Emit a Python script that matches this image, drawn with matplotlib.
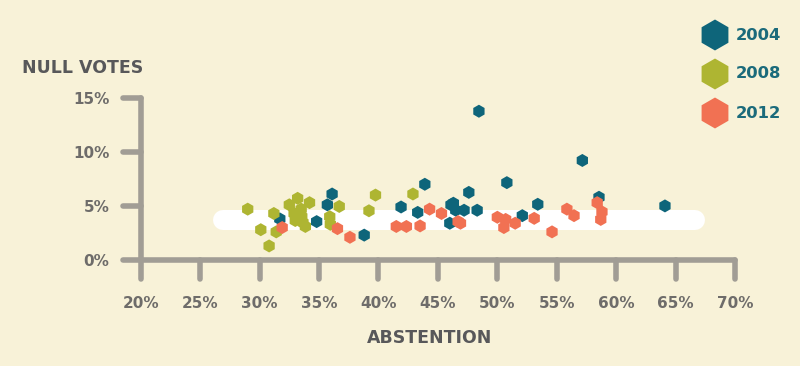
import matplotlib
matplotlib.use('Agg')
import matplotlib.pyplot as plt

#
# DATA
#
years = ['2004', '2008', '2012']

abst_2004 = [31.7, 34.8, 35.7, 36.1, 38.8, 41.9, 43.3, 43.9, 46.0, 46.1, 46.3,
             46.5, 47.2, 47.6, 48.3, 48.45, 50.8, 52.1, 53.4, 57.15, 58.55, 64.1]
null_2004 = [3.8, 3.55, 5.1, 6.1, 2.3, 4.9, 4.4, 7.0, 3.4, 5.1, 5.25,
             4.6, 4.6, 6.25, 4.6, 13.75, 7.15, 4.1, 5.15, 9.2, 5.8, 5.0]

abst_2008 = [29.0, 30.1, 30.8, 31.2, 31.4, 32.5, 32.9, 33.0, 33.2, 33.5,
             33.55, 33.65, 33.85, 34.2, 35.9, 35.95, 36.7, 39.2, 39.75, 42.9]
null_2008 = [4.7, 2.8, 1.3, 4.3, 2.6, 5.1, 4.3, 3.65, 5.7, 4.7,
             4.0, 3.45, 3.1, 5.3, 4.0, 3.3, 4.95, 4.55, 6.0, 6.1]

abst_2012 = [31.9, 36.55, 37.6, 41.5, 42.35, 43.5, 44.3, 45.3, 46.7, 46.9, 50.0,
             50.7, 50.55, 51.5, 53.1, 54.6, 55.85, 56.45, 58.4, 58.8, 58.7]
null_2012 = [3.0, 2.9, 2.1, 3.1, 3.1, 3.15, 4.7, 4.3, 3.55, 3.4, 3.95,
             3.75, 3.0, 3.4, 3.85, 2.6, 4.7, 4.1, 5.3, 4.45, 3.75]

# white band (average)
band_x = [26.92, 66.63]
band_y = [3.7, 3.7]

x_ticks = [20, 25, 30, 35, 40, 45, 50, 55, 60, 65, 70]
y_ticks = [0, 5, 10, 15]

#
# STYLE
#
BG = '#f8f2d8'
AXIS = '#a19d95'
LABEL = '#6e6c6a'
TITLE = '#58585a'
TEAL = '#0e657a'
OLIVE = '#aeb532'
CORAL = '#f17153'
colors = [TEAL, OLIVE, CORAL]

plt.rcParams['font.family'] = 'DejaVu Sans'
plt.rcParams['font.weight'] = 'bold'

fig = plt.figure(figsize=(8, 3.66), dpi=100, facecolor=BG)
ax = fig.add_axes([0.1759, 0.2896, 0.7504, 0.4582])
ax.set_facecolor(BG)
ax.set_xlim(20, 70.5)
ax.set_ylim(0, 15.5)
for s in ax.spines.values():
    s.set_visible(False)

# axis lines with rounded ends
lw = 4.0
ax.plot([20, 20], [-1.8, 15], color=AXIS, lw=lw, solid_capstyle='round', clip_on=False, zorder=1)
ax.plot([18.55, 70], [0, 0], color=AXIS, lw=lw, solid_capstyle='round', clip_on=False, zorder=1)
for v in y_ticks[1:]:
    ax.plot([18.55, 20], [v, v], color=AXIS, lw=lw, solid_capstyle='round', clip_on=False, zorder=1)
for u in x_ticks[1:]:
    ax.plot([u, u], [0, -1.8], color=AXIS, lw=lw, solid_capstyle='round', clip_on=False, zorder=1)

ax.set_xticks(x_ticks)
ax.set_xticklabels(['%d%%' % t for t in x_ticks])
ax.set_yticks(y_ticks)
ax.set_yticklabels(['%d%%' % t for t in y_ticks])
ax.tick_params(axis='x', length=0, pad=26, labelsize=11, labelcolor=LABEL)
ax.tick_params(axis='y', length=0, pad=22.5, labelsize=11, labelcolor=LABEL)

# band
ax.plot(band_x, band_y, color='white', lw=14.4, solid_capstyle='round', zorder=2)

# points
series = [(abst_2004, null_2004), (abst_2008, null_2008), (abst_2012, null_2012)]
for (xs, ys), c in zip(series, colors):
    ax.scatter(xs, ys, marker='h', s=88, color=c, edgecolors='none', zorder=3)

# axis titles
fig.text(22 / 800, 1 - 73 / 366, 'NULL VOTES', fontsize=12.5, color=TITLE,
         ha='left', va='baseline')
fig.text(430 / 800, 1 - 338 / 366, 'ABSTENTION', fontsize=12.5, color=TITLE,
         ha='center', va='center')

# legend
lax = fig.add_axes([0, 0, 1, 1], zorder=5)
lax.set_xlim(0, 800)
lax.set_ylim(366, 0)
lax.axis('off')
lax.patch.set_alpha(0)
for i, (yr, c) in enumerate(zip(years, colors)):
    yy = 35 + i * 39
    lax.scatter([715], [yy], marker='h', s=22.3 ** 2, color=c, edgecolors='none')
    lax.text(736, yy, yr, fontsize=11.8, color='#1b6b7b', ha='left', va='center')

fig.savefig('out.png', dpi=100, facecolor=BG)
